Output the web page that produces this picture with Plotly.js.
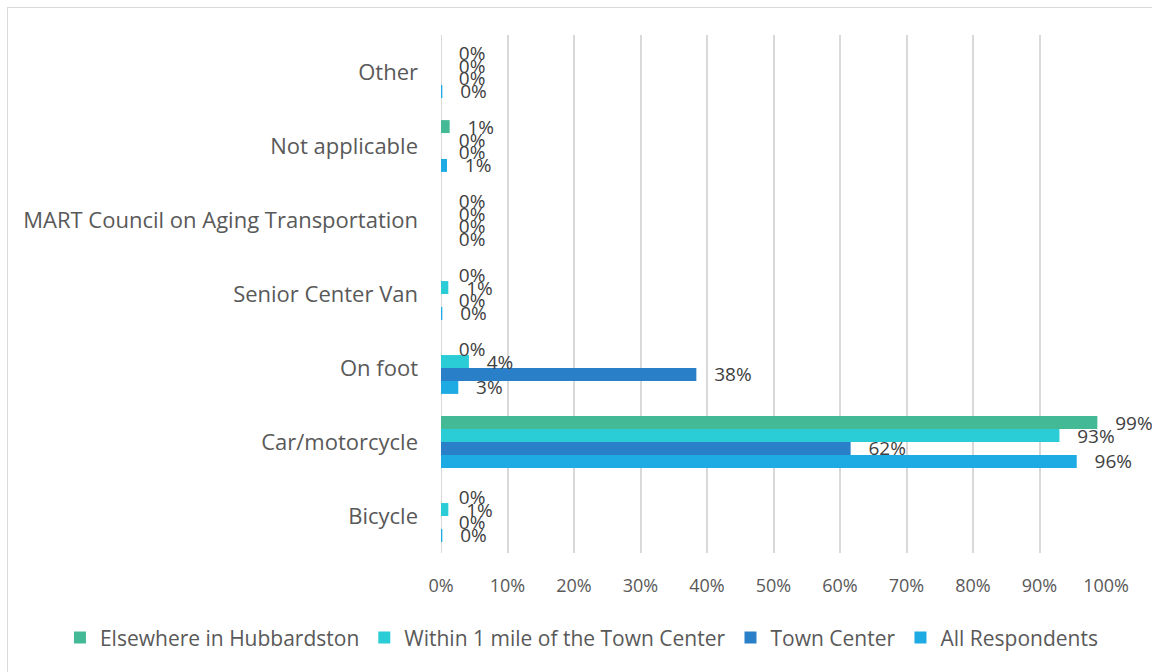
<!DOCTYPE html>
<html>
<head>
<meta charset="utf-8">
<script src="https://cdn.plot.ly/plotly-3.0.1.min.js"></script>
<style>
html,body{margin:0;padding:0;background:#fff;overflow:hidden;}
#chart{position:absolute;left:0;top:0;width:1152px;height:672px;}
#frame{position:absolute;left:7px;top:7px;width:1160px;height:680px;border:1px solid #d9d9d9;pointer-events:none;}
</style>
</head>
<body>
<div id="chart"></div>
<div id="frame"></div>
<script>
const categories = ["Bicycle", "Car/motorcycle", "On foot", "Senior Center Van",
  "MART Council on Aging Transportation", "Not applicable", "Other"];
const seriesNames = ["All Respondents", "Town Center", "Within 1 mile of the Town Center", "Elsewhere in Hubbardston"];
const allRespondents = [0.002, 0.956, 0.026, 0.002, 0, 0.009, 0.002];
const townCenter     = [0, 0.616, 0.384, 0, 0, 0, 0];
const withinOneMile  = [0.011, 0.930, 0.042, 0.011, 0, 0, 0];
const elsewhere      = [0, 0.987, 0, 0, 0, 0.013, 0];
const xTickVals = [0, 0.1, 0.2, 0.3, 0.4, 0.5, 0.6, 0.7, 0.8, 0.9, 1.0];

const colors = ["#1EABE3", "#2A80C8", "#2ACCD6", "#44B995"];
const values = [allRespondents, townCenter, withinOneMile, elsewhere];

const traces = values.map((v, i) => ({
  type: "bar",
  orientation: "h",
  name: seriesNames[i],
  y: categories,
  x: v,
  marker: {color: colors[i]},
  texttemplate: "\u00A0\u00A0\u00A0%{x:.0%}",
  textposition: "outside",
  constraintext: "none",
  cliponaxis: false,
  textfont: {family: "Open Sans, sans-serif", size: 19, color: "#404040"},
  hoverinfo: "skip"
}));

const layout = {
  width: 1152, height: 672,
  margin: {l: 441, r: 46, t: 35, b: 119},
  paper_bgcolor: "#fff", plot_bgcolor: "#fff",
  barmode: "group",
  bargap: 0.3,
  bargroupgap: 0,
  font: {family: "Open Sans, sans-serif", color: "#595959"},
  xaxis: {
    range: [0, 1.0],
    tickvals: xTickVals,
    tickformat: ".0%",
    showgrid: true, gridcolor: "#d9d9d9", gridwidth: 2,
    zeroline: false, showline: false,
    ticks: "", ticklabelstandoff: 20,
    tickfont: {size: 18, color: "#595959"},
    fixedrange: true
  },
  yaxis: {
    type: "category",
    categoryorder: "array", categoryarray: categories,
    showgrid: false, zeroline: false, showline: false,
    ticks: "", ticklabelstandoff: 22,
    tickfont: {size: 22, color: "#595959"},
    fixedrange: true
  },
  shapes: [{type: "line", xref: "x", yref: "paper", x0: 0, x1: 0, y0: 0, y1: 1,
    line: {color: "#d9d9d9", width: 2}, layer: "below"}],
  showlegend: true,
  legend: {
    orientation: "h", traceorder: "reversed",
    xref: "paper", yref: "paper",
    x: -0.573, xanchor: "left", y: -0.164, yanchor: "middle",
    font: {size: 21, color: "#595959"},
    itemwidth: 30
  }
};

Plotly.newPlot("chart", traces, layout, {displayModeBar: false, staticPlot: true});
</script>
</body>
</html>
